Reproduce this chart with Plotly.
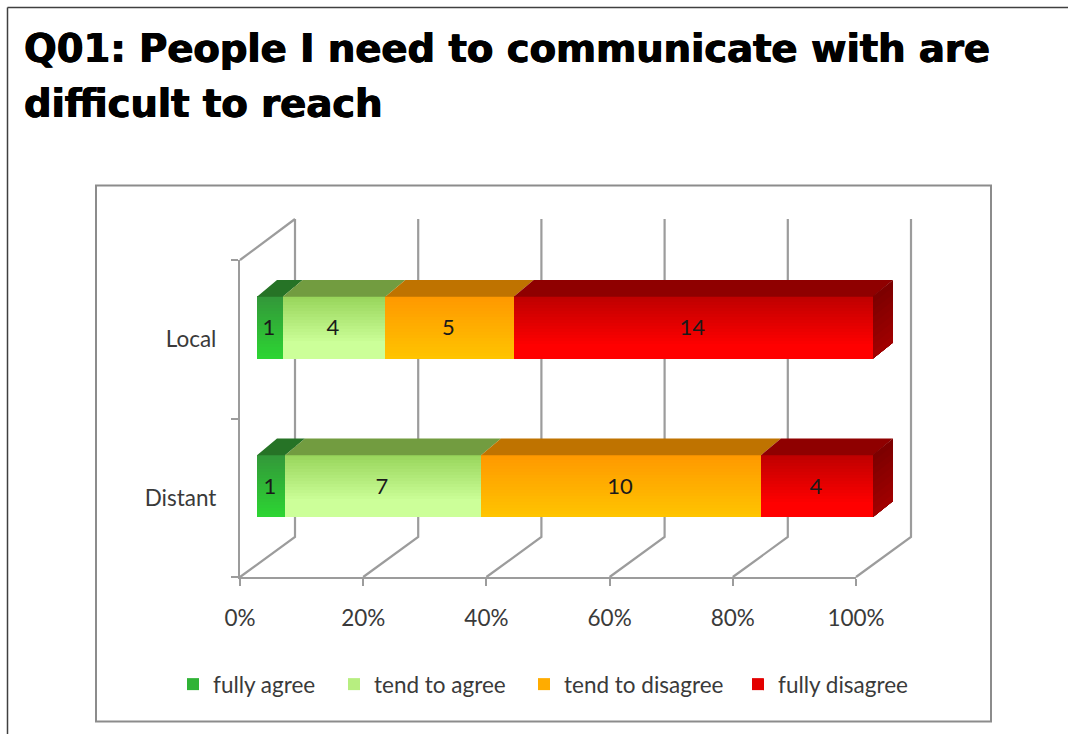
import plotly.graph_objects as go
import numpy as np

# ---- data ----
categories = ["Distant", "Local"]
series_names = ["fully agree", "tend to agree", "tend to disagree", "fully disagree"]
fully_agree = [1, 1]
tend_to_agree = [7, 4]
tend_to_disagree = [10, 5]
fully_disagree = [4, 14]
tick_values = [0, 20, 40, 60, 80, 100]
tick_labels = ["0%", "20%", "40%", "60%", "80%", "100%"]
title_line_1 = "Q01: People I need to communicate with are"
title_line_2 = "difficult to reach"

series_values = [fully_agree, tend_to_agree, tend_to_disagree, fully_disagree]

# ---- styles ----
W, H = 1068, 734
grad = [
    [(0.0, "#33993a"), (1.0, "#2dd433")],
    [(0.0, "#99d65c"), (0.75, "#ccff99"), (1.0, "#ccff99")],
    [(0.0, "#ff9900"), (1.0, "#ffc400")],
    [(0.0, "#c00000"), (0.8, "#ff0000"), (1.0, "#ff0000")],
]
top_colors = ["#267326", "#729c40", "#bf7300", "#8f0000"]
legend_widths = [116, 145, 169, 145]
GRID = "#9c9c9c"
GRID_W = 2.2
TXT = "#3a3a3a"
FONT = "Lato"
TITLE_FONT = dict(family="DejaVu Sans", size=38.5, weight="bold", color="black",
                  shadow="0.6px 0 0 black, -0.6px 0 0 black")

def hex2rgb(h):
    return np.array([int(h[i:i + 2], 16) for i in (1, 3, 5)], float)

def color_at(stops, t):
    for (t0, c0), (t1, c1) in zip(stops, stops[1:]):
        if t <= t1:
            f = (t - t0) / (t1 - t0)
            r = hex2rgb(c0) * (1 - f) + hex2rgb(c1) * f
            return "rgb(%d,%d,%d)" % tuple(r)
    return stops[-1][1]

# geometry: plot scale in pixels
PX_X0, PX_X100 = 240, 856       # front 0% / 100%
PX_Y0, PX_YTOP = 577, 260       # floor / top of the front plane
SX = (PX_X100 - PX_X0) / 100
SY = (PX_Y0 - PX_YTOP) / len(categories)
BAR_SHIFT = 17 / SX             # bars sit inside the depth
BDX, BDY = 20 / SX, 16 / SY     # bar depth
WDX, WDY = 55 / SX, 40 / SY     # wall depth
WALL_TOP = (PX_Y0 - 219) / SY
BAR_H = 62.5 / SY
BAR_LIFT = 12 / SY              # bar centre relative to the category's middle
N = 21

# extended overlay area for walls and bars
AX0, AX1, AY0, AY1 = 228, 922, 586, 210
xr = [(AX0 - PX_X0) / SX - BAR_SHIFT, (AX1 - PX_X0) / SX - BAR_SHIFT]
yr = [(PX_Y0 - AY0) / SY, (PX_Y0 - AY1) / SY]
xdom = [AX0 / W, AX1 / W]
ydom = [1 - AY0 / H, 1 - AY1 / H]

fig = go.Figure()

# back walls (bottom subplot)
wx, wy = [], []
for t in tick_values:
    fx = t - BAR_SHIFT
    wx += [fx, fx + WDX, fx + WDX, None]
    wy += [0, WDY, WALL_TOP, None]
fx = -BAR_SHIFT
wx += [fx, fx + WDX]
wy += [len(categories), WALL_TOP]
fig.add_trace(go.Scatter(x=wx, y=wy, mode="lines", line=dict(color=GRID, width=GRID_W),
                         showlegend=False, hoverinfo="skip", xaxis="x", yaxis="y"))

# front faces: stacked, normalised bars in thin strips for the vertical gradient
centres = [i + 0.5 + BAR_LIFT for i in range(len(categories))]
order = sorted(range(N), key=lambda k: abs(k - N * 0.45))
for name, vals, stops, lw in zip(series_names, series_values, grad, legend_widths):
    ys, xs, cols = [], [], []
    for k in order:
        for c, v in zip(centres, vals):
            ys.append(c + (N / 2 - 0.5 - k) * BAR_H / N)
            xs.append(v)
            cols.append(color_at(stops, k / (N - 1)))
    fig.add_trace(go.Bar(x=xs, y=ys, orientation="h", width=BAR_H / N, name=name, legendwidth=lw,
                         marker=dict(color=cols, line=dict(width=0)),
                         hoverinfo="skip", xaxis="x2", yaxis="y2"))

# top and side faces + value labels, derived from the same values
arr = np.array(series_values, float)
pct = arr / arr.sum(axis=0) * 100
cum = np.vstack([np.zeros(len(categories)), np.cumsum(pct, axis=0)])
SEAM = 0.7 / SY
for s in range(len(series_names)):
    px_, py_ = [], []
    for i, c in enumerate(centres):
        l, r = cum[s, i], cum[s + 1, i]
        t = c + BAR_H / 2
        px_ += [l, r, r + BDX, l + BDX, l, None]
        py_ += [t - SEAM, t - SEAM, t + BDY, t + BDY, t - SEAM, None]
    fig.add_trace(go.Scatter(x=px_, y=py_, mode="lines", fill="toself", fillcolor=top_colors[s],
                             line=dict(width=0), showlegend=False, hoverinfo="skip",
                             xaxis="x2", yaxis="y2"))

# right-hand end faces: painted top to bottom, each one reaching the bar's bottom edge
M = 9
for i, c in enumerate(centres):
    bottom = c - BAR_H / 2
    for m in range(M):
        y0 = c + BAR_H / 2 - m * BAR_H / M
        f = m / (M - 1)
        col = "rgb(%d,0,0)" % (125 + 35 * f)
        fig.add_trace(go.Scatter(x=[100, 100 + BDX, 100 + BDX, 100, 100],
                                 y=[y0, y0 + BDY, bottom + BDY, bottom, y0],
                                 mode="lines", fill="toself", fillcolor=col, line=dict(width=0),
                                 showlegend=False, hoverinfo="skip", xaxis="x2", yaxis="y2"))

lx, ly, lt = [], [], []
for s in range(len(series_names)):
    for i, c in enumerate(centres):
        lx.append((cum[s, i] + cum[s + 1, i]) / 2 - 1 / SX)
        ly.append(c - 2.5 / SY)
        lt.append(str(series_values[s][i]))
fig.add_trace(go.Scatter(x=lx, y=ly, text=lt, mode="text", textposition="middle center",
                         textfont=dict(family=FONT, size=22, color="#1a1a1a"),
                         showlegend=False, hoverinfo="skip", xaxis="x2", yaxis="y2"))

# axes with ticks
fig.add_trace(go.Scatter(x=[None, None], y=categories, mode="lines", showlegend=False,
                         hoverinfo="skip", xaxis="x3", yaxis="y3"))

hidden = dict(visible=False, fixedrange=True)
axis_style = dict(showgrid=False, zeroline=False, showline=True, linecolor=GRID, linewidth=GRID_W,
                  ticks="outside", ticklen=7, tickcolor=GRID, tickwidth=GRID_W,
                  tickfont=dict(family=FONT, size=22.5, color=TXT))

fig.update_layout(
    width=W, height=H, margin=dict(l=0, r=0, t=0, b=0, autoexpand=False),
    paper_bgcolor="white", plot_bgcolor="rgba(0,0,0,0)",
    barmode="stack", barnorm="percent",
    title=dict(text=title_line_1, x=24 / W, xanchor="left", y=1 - 49 / H, yanchor="middle",
               font=TITLE_FONT),
    annotations=[dict(text=title_line_2, xref="paper", yref="paper", x=24 / W, xanchor="left",
                      y=1 - 104 / H, yanchor="middle", showarrow=False, font=TITLE_FONT,
                      xshift=-2)],
    xaxis=dict(domain=xdom, range=xr, **hidden),
    yaxis=dict(domain=ydom, range=yr, **hidden),
    xaxis2=dict(domain=xdom, range=xr, overlaying="x", anchor="y2", **hidden),
    yaxis2=dict(domain=ydom, range=yr, overlaying="y", anchor="x2", **hidden),
    xaxis3=dict(domain=[PX_X0 / W, PX_X100 / W], range=[0, 100], anchor="y3",
                tickmode="array", tickvals=tick_values, ticktext=tick_labels,
                ticklabelstandoff=13, **axis_style),
    yaxis3=dict(domain=[1 - PX_Y0 / H, 1 - PX_YTOP / H], range=[-0.5, 1.5],
                anchor="x3", type="category", categoryorder="array", categoryarray=categories,
                tickson="boundaries", ticklabelstandoff=17, **axis_style),
    legend=dict(orientation="h", x=173 / W, xanchor="left", y=1 - 663 / H, yanchor="top",
                font=dict(family=FONT, size=22.5, color=TXT), traceorder="normal",
                bgcolor="rgba(0,0,0,0)"),
    shapes=[
        dict(type="line", xref="paper", yref="paper", x0=7.5 / W, x1=1, y0=1 - 7.5 / H, y1=1 - 7.5 / H,
             line=dict(color="#404040", width=1.5), layer="below"),
        dict(type="line", xref="paper", yref="paper", x0=7.5 / W, x1=7.5 / W, y0=1 - 7.5 / H, y1=0,
             line=dict(color="#404040", width=1.5), layer="below"),
        dict(type="rect", xref="paper", yref="paper", x0=96 / W, x1=991 / W, y0=1 - 721.5 / H, y1=1 - 185.5 / H,
             line=dict(color="#8c8c8c", width=2), layer="below"),
    ],
)

fig.write_html("out.html", config=dict(displayModeBar=False),
               post_script="document.body.style.margin='0';document.body.style.overflow='hidden';")
